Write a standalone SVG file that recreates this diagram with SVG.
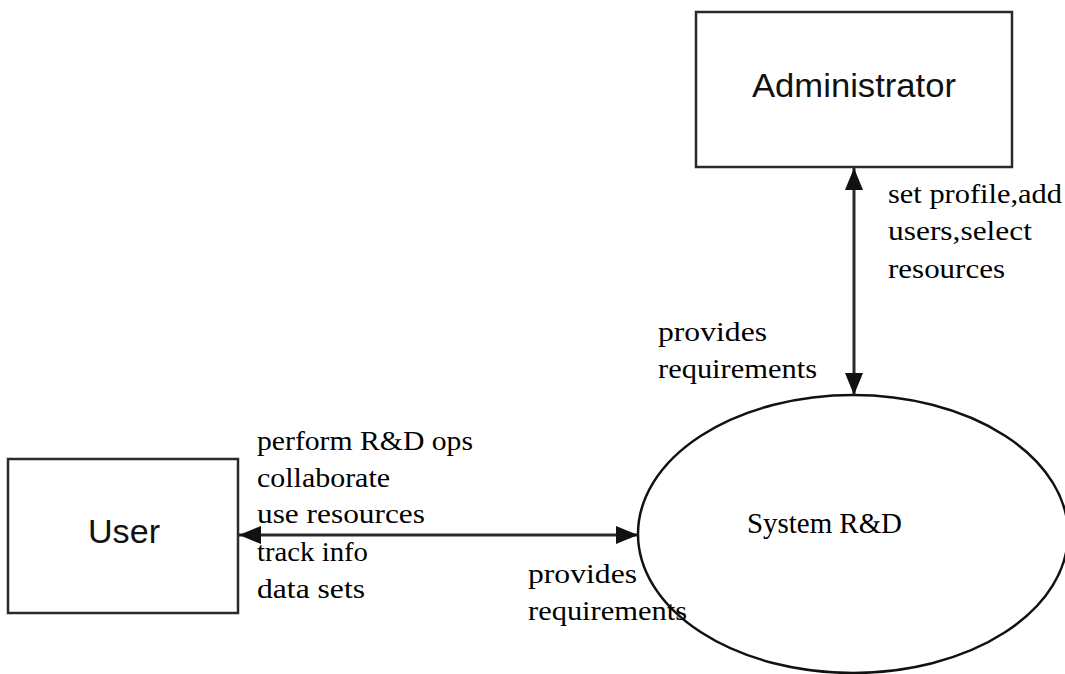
<svg xmlns="http://www.w3.org/2000/svg" width="1065" height="674" viewBox="0 0 1065 674">
<style>
.box{fill:#fff;stroke:#2a2a2a;stroke-width:2.5}
.ell{fill:#fff;stroke:#111;stroke-width:2.5}
.edge{stroke:#2a2a2a;stroke-width:3;fill:none}
.sans{font-family:"Liberation Sans",Arial,sans-serif;font-size:34px;fill:#111}
.serif{font-family:"Liberation Serif","Times New Roman",serif;font-size:28px;fill:#000}
.sys{font-family:"Liberation Serif","Times New Roman",serif;font-size:30px;fill:#000}
</style>
<defs>
<marker id="ah" markerUnits="userSpaceOnUse" markerWidth="24" markerHeight="20" refX="22" refY="9" orient="auto-start-reverse">
<path d="M0,0 L22,9 L0,18 Z" fill="#111"/>
</marker>
</defs>
<rect width="1065" height="674" fill="#fff"/>
<g id="system">
<ellipse class="ell" cx="853" cy="534" rx="215" ry="139"/>
<text class="sys" x="747" y="533" textLength="155" lengthAdjust="spacingAndGlyphs">System R&amp;D</text>
</g>
<g id="administrator">
<rect class="box" x="696" y="12" width="316" height="155"/>
<text class="sans" x="752" y="97" textLength="204" lengthAdjust="spacingAndGlyphs">Administrator</text>
</g>
<g id="user">
<rect class="box" x="8" y="459" width="230" height="154"/>
<text class="sans" x="88" y="543" textLength="72" lengthAdjust="spacingAndGlyphs">User</text>
</g>
<g id="connectors">
<line class="edge" x1="854" y1="168" x2="854" y2="395" marker-start="url(#ah)" marker-end="url(#ah)"/>
<line class="edge" x1="239" y1="535" x2="638" y2="535" marker-start="url(#ah)" marker-end="url(#ah)"/>
</g>
<g id="labels">
<text class="serif" x="888" y="203" textLength="174" lengthAdjust="spacingAndGlyphs">set profile,add</text>
<text class="serif" x="888" y="240" textLength="144" lengthAdjust="spacingAndGlyphs">users,select</text>
<text class="serif" x="888" y="278" textLength="117" lengthAdjust="spacingAndGlyphs">resources</text>
<text class="serif" x="658" y="341" textLength="109" lengthAdjust="spacingAndGlyphs">provides</text>
<text class="serif" x="658" y="378" textLength="159" lengthAdjust="spacingAndGlyphs">requirements</text>
<text class="serif" x="257" y="450" textLength="216" lengthAdjust="spacingAndGlyphs">perform R&amp;D ops</text>
<text class="serif" x="257" y="487" textLength="133" lengthAdjust="spacingAndGlyphs">collaborate</text>
<text class="serif" x="257" y="523" textLength="168" lengthAdjust="spacingAndGlyphs">use resources</text>
<text class="serif" x="257" y="561" textLength="111" lengthAdjust="spacingAndGlyphs">track info</text>
<text class="serif" x="257" y="598" textLength="108" lengthAdjust="spacingAndGlyphs">data sets</text>
<text class="serif" x="528" y="583" textLength="109" lengthAdjust="spacingAndGlyphs">provides</text>
<text class="serif" x="528" y="620" textLength="159" lengthAdjust="spacingAndGlyphs">requirements</text>
</g>
</svg>
